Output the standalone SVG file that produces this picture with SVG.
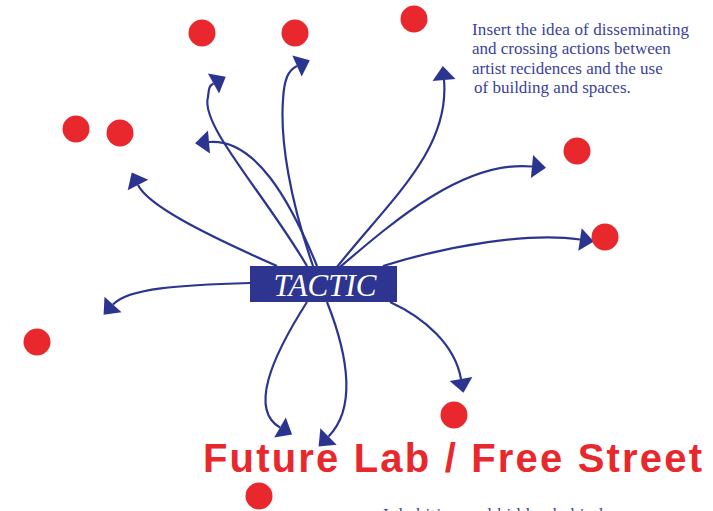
<svg xmlns="http://www.w3.org/2000/svg" width="713" height="511" viewBox="0 0 713 511">
<style>
.dot{fill:#e8282d}
.arr{fill:none;stroke:#2b3590;stroke-width:2.2;marker-end:url(#ah)}
.note{font-family:"Liberation Serif",serif;font-size:17px;fill:#3b4199}
.title{font-family:"Liberation Sans",sans-serif;font-weight:bold;font-size:40px;fill:#e8282d}
.tactic{font-family:"Liberation Serif",serif;font-style:italic;font-size:31px;fill:#ffffff}
</style>
<defs>
<marker id="ah" markerUnits="userSpaceOnUse" orient="auto" refX="0" refY="0" markerWidth="20" markerHeight="30" overflow="visible">
<path d="M0,-11.5 L14,0 L0,11.5 z" fill="#2b3590"/>
</marker>
</defs>
<rect width="713" height="511" fill="#ffffff"/>
<g id="connectors">
<path class="arr" d="M277,266 C200,232 148,205 138,185"/>
<path class="arr" d="M307,266 C262,190 200,125 208,97 C209,88 209,86 213.5,83.5"/>
<path class="arr" d="M317,266 C290,200 255,138 209,142"/>
<path class="arr" d="M313,266 C290,200 280,140 283,100 C284,80 288,70 297,66"/>
<path class="arr" d="M337,267 C390,200 450,150 444,80"/>
<path class="arr" d="M340,267 C395,220 465,160 532,166.5"/>
<path class="arr" d="M383,266 C450,245 530,232 580,239.5"/>
<path class="arr" d="M250,283 C180,285 128,288 113,304.5"/>
<path class="arr" d="M307,302 C270,360 250,410 280,427.5"/>
<path class="arr" d="M327,302 C350,360 355,410 328.5,436.5"/>
<path class="arr" d="M390,302 C425,318 455,345 461,379"/>
</g>
<g id="tactic">
<rect x="250" y="266" width="147" height="36" fill="#2e3591"/>
<text class="tactic" x="325" y="295.5" text-anchor="middle">TACTIC</text>
</g>
<g id="dots">
<circle class="dot" cx="202" cy="33" r="13.5"/>
<circle class="dot" cx="295" cy="33" r="13.5"/>
<circle class="dot" cx="414" cy="19" r="13.5"/>
<circle class="dot" cx="76" cy="129" r="13.5"/>
<circle class="dot" cx="120" cy="133" r="13.5"/>
<circle class="dot" cx="37" cy="342" r="13.5"/>
<circle class="dot" cx="577" cy="151" r="13.5"/>
<circle class="dot" cx="605" cy="237" r="13.5"/>
<circle class="dot" cx="454" cy="415" r="13.5"/>
<circle class="dot" cx="259" cy="496" r="13.5"/>
</g>
<g id="note">
<text class="note" x="472" y="35" textLength="217" lengthAdjust="spacing">Insert the idea of disseminating</text>
<text class="note" x="472" y="54.3">and crossing actions between</text>
<text class="note" x="472" y="73.6">artist recidences and the use</text>
<text class="note" x="474" y="93">of building and spaces.</text>
</g>
<g id="title">
<text class="title" x="203" y="472" textLength="499" lengthAdjust="spacing">Future Lab / Free Street</text>
</g>
<g id="footer">
<text class="note" x="383" y="519.5" textLength="220" lengthAdjust="spacing">Inhabiting and hidden behind</text>
</g>
</svg>
